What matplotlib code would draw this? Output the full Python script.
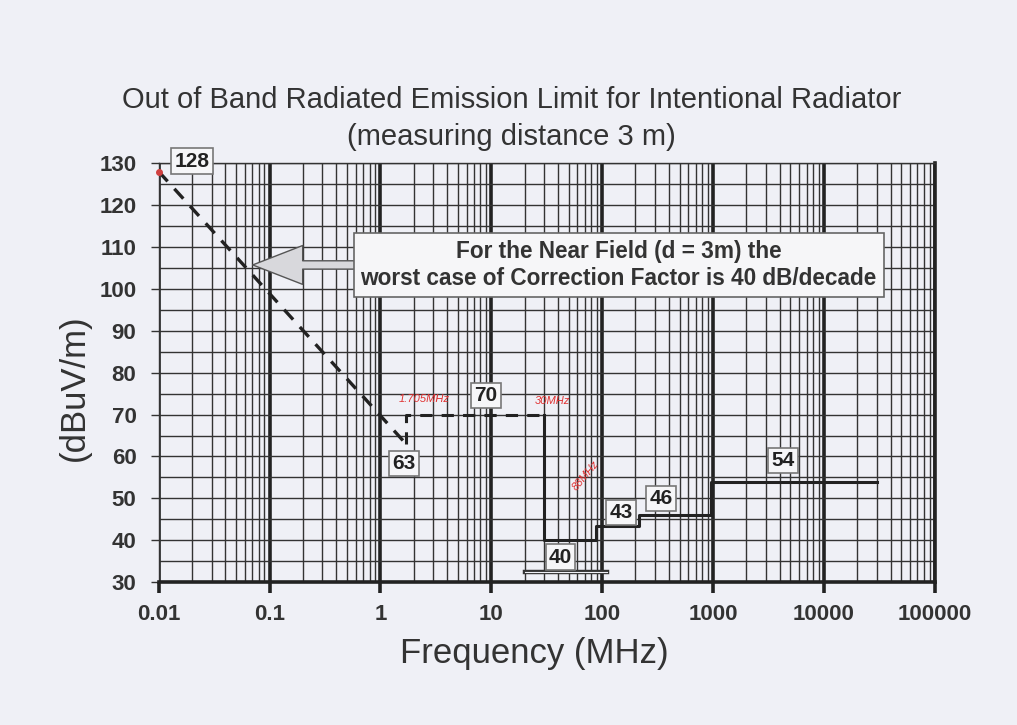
import numpy as np
import matplotlib.pyplot as plt
from matplotlib.ticker import FixedLocator, MultipleLocator, NullFormatter

plt.rcParams['font.family'] = ['Liberation Sans', 'DejaVu Sans']

# 40 dB/decade near-field extrapolation (dashed)
slope_f = [0.01, 1.705]
slope_l = [128, 63]
# dashed 70 dB level between 1.705 MHz and 30 MHz
band_f = [1.705, 1.705, 30]
band_l = [63, 70, 70]
# solid limit steps above 30 MHz
limit_f = [30, 30, 88, 88, 216, 216, 960, 960, 30000]
limit_l = [70, 40, 40, 43.5, 43.5, 46, 46, 54, 54]
# short double line near the bottom
low_f = [20, 110]
low_l = [32.5, 32.5]

# boxed value labels: text, freq, level
box_txt = ['128', '63', '70', '40', '43', '46', '54']
box_f = [0.02, 1.64, 9.0, 42, 148, 340, 4300]
box_l = [130.5, 58.4, 74.5, 36, 46.7, 50, 59]

# handwritten red notes
note_txt = ['1.705MHz', '30MHz', '88MHz']
note_f = [2.5, 36, 72]
note_l = [73.7, 73.2, 55.5]
note_rot = [0, 0, 50]

x_ticks = [0.01, 0.1, 1, 10, 100, 1000, 10000, 100000]
x_labels = ['0.01', '0.1', '1', '10', '100', '1000', '10000', '100000']
y_ticks = list(range(30, 131, 10))

bg = '#eff0f6'
fig = plt.figure(figsize=(10.17, 7.25), dpi=100, facecolor=bg)
ax = fig.add_axes([0.156, 0.197, 0.763, 0.578], facecolor=bg)
ax.set_xscale('log')
ax.set_xlim(0.01, 100000)
ax.set_ylim(30, 130)

minors = [m * 10.0 ** e for e in range(-2, 5) for m in range(2, 10)]
ax.xaxis.set_major_locator(FixedLocator(x_ticks))
ax.xaxis.set_minor_locator(FixedLocator(minors))
ax.xaxis.set_minor_formatter(NullFormatter())
ax.set_xticklabels(x_labels)
ax.set_yticks(y_ticks)
ax.yaxis.set_minor_locator(MultipleLocator(5))

ax.set_axisbelow(True)
ax.grid(which='major', axis='x', color='#222222', lw=2.6)
ax.grid(which='minor', axis='x', color='#333333', lw=1.0)
ax.grid(which='both', axis='y', color='#333333', lw=1.0)
ax.tick_params(axis='x', which='major', length=8, width=2.6, color='#222222',
               labelsize=16, pad=8)
ax.tick_params(axis='y', which='major', length=6, width=1, color='#333333',
               labelsize=16, pad=10)
ax.tick_params(which='minor', length=0)
for lab in ax.get_xticklabels() + ax.get_yticklabels():
    lab.set_fontweight('bold')
    lab.set_color('#333333')

for s in ['top', 'left']:
    ax.spines[s].set_linewidth(1.0)
    ax.spines[s].set_color('#333333')
ax.spines['right'].set_linewidth(2.6)
ax.spines['right'].set_color('#222222')
ax.spines['bottom'].set_linewidth(2.6)
ax.spines['bottom'].set_color('#222222')

ax.plot(slope_f, slope_l, ls=(0, (4, 3)), color='#222222', lw=2.4, zorder=3)
ax.plot(band_f, band_l, ls=(0, (4, 3)), color='#222222', lw=2.2, zorder=3)
ax.plot(limit_f, limit_l, color='#222222', lw=2.2, zorder=3)
ax.plot(low_f, low_l, color='#333333', lw=3.2, zorder=3)
ax.plot(low_f, low_l, color=bg, lw=0.8, zorder=3)
ax.plot([0.01], [128], 'o', color='#d04040', ms=4, zorder=4, clip_on=False)

for t, f, l in zip(box_txt, box_f, box_l):
    ax.text(f, l, t, fontsize=15, fontweight='bold', color='#222222',
            ha='center', va='center', zorder=5, clip_on=False,
            bbox=dict(boxstyle='square,pad=0.15', fc='#f6f6f8', ec='#777777', lw=1.2))

for t, f, l, r in zip(note_txt, note_f, note_l, note_rot):
    ax.text(f, l, t, fontsize=8, color='#e03030', style='italic',
            ha='center', va='center', rotation=r, zorder=5)

# callout with arrow
ax.annotate('', xy=(0.0705, 105.7), xytext=(5.0, 105.7),
            arrowprops=dict(arrowstyle='simple,head_length=3.6,head_width=2.8,tail_width=0.6',
                            mutation_scale=10, shrinkA=0, shrinkB=0,
                            fc='#d8d8dc', ec='#555555', lw=1.0), zorder=4)
ax.text(141, 105.7,
        'For the Near Field (d = 3m) the\nworst case of Correction Factor is 40 dB/decade',
        fontsize=16.3, fontweight='bold', color='#333333', ha='center', va='center',
        linespacing=1.25, zorder=5,
        bbox=dict(boxstyle='square,pad=0.3', fc='#f6f6f8', ec='#666666', lw=1.2))

fig.text(0.503, 0.862, 'Out of Band Radiated Emission Limit for Intentional Radiator',
         fontsize=21, color='#333333', ha='center', va='center')
fig.text(0.503, 0.811, '(measuring distance 3 m)', fontsize=21, color='#333333',
         ha='center', va='center')
fig.text(0.525, 0.099, 'Frequency (MHz)', fontsize=25, color='#333333',
         ha='center', va='center')
fig.text(0.073, 0.465, '(dBuV/m)', fontsize=25, color='#333333',
         ha='center', va='center', rotation=90)

fig.savefig('out.png', dpi=100, facecolor=bg)
